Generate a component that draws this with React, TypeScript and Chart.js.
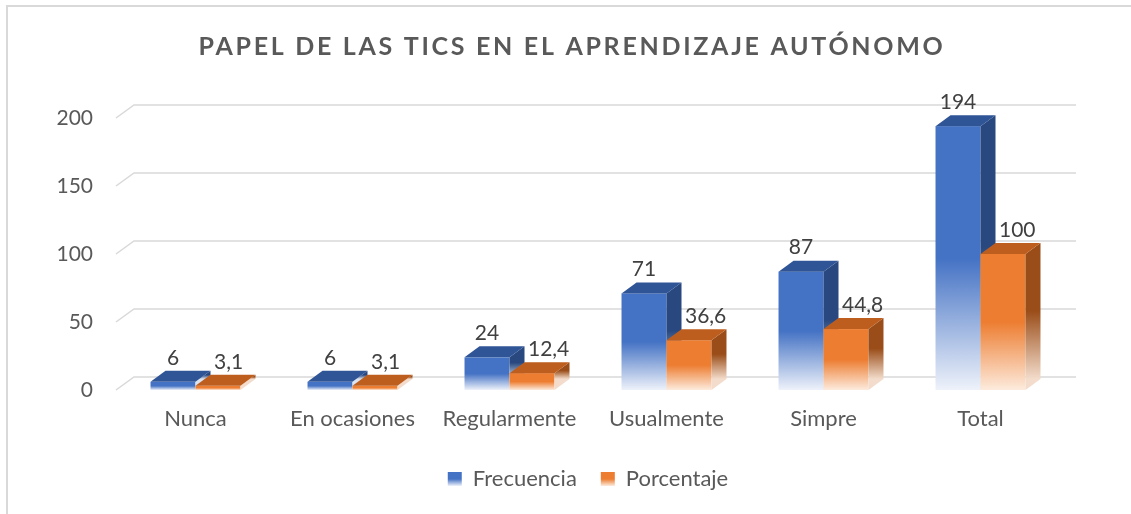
import React, { useEffect, useRef } from 'react';
import { Chart, registerables } from 'chart.js';

Chart.register(...registerables);

// ---------- data ----------
const categories = ['Nunca', 'En ocasiones', 'Regularmente', 'Usualmente', 'Simpre', 'Total'];
const seriesNames = ['Frecuencia', 'Porcentaje'];
const frecuencia = [6, 6, 24, 71, 87, 194];
const porcentaje = [3.1, 3.1, 12.4, 36.6, 44.8, 100];
const yTicks = [0, 50, 100, 150, 200];
const chartTitle = 'PAPEL DE LAS TICS EN EL APRENDIZAJE AUTÓNOMO';

// ---------- styles ----------
const FONT = 'Lato';
const TEXT = '#595959';
const LABEL = '#404040';
const GRID = '#D9D9D9';
const DX = 15; // bar depth
const DY = -11;
const WX = 17; // back wall offset
const WY = -13;
const LEGEND_BOX = 14;
const LEGEND_FONT = 22;

const palette = [
  { front: '#4472C4', top: '#2F5597', side: '#28487F', pale: '#EEF2FA', sidePale: '#DCE3F0' },
  { front: '#ED7D31', top: '#BE5E1E', side: '#9A4D19', pale: '#FDEBDD', sidePale: '#F3DCCB' },
];

const fmt = (v: number) => String(v).replace('.', ',');

function fade(ctx: CanvasRenderingContext2D, y0: number, y1: number, solid: string, pale: string) {
  const g = ctx.createLinearGradient(0, y0, 0, y1);
  g.addColorStop(0, solid);
  g.addColorStop(0.5, solid);
  g.addColorStop(1, pale);
  return g;
}

function drawBox(ctx: CanvasRenderingContext2D, l: number, r: number, top: number, bottom: number, c: any) {
  // front face
  ctx.fillStyle = fade(ctx, top, bottom, c.front, c.pale);
  ctx.fillRect(l, top, r - l, bottom - top);
  // side face
  ctx.fillStyle = fade(ctx, top + DY, bottom + DY, c.side, c.sidePale);
  ctx.beginPath();
  ctx.moveTo(r, top);
  ctx.lineTo(r + DX, top + DY);
  ctx.lineTo(r + DX, bottom + DY);
  ctx.lineTo(r, bottom);
  ctx.closePath();
  ctx.fill();
  // top face
  ctx.fillStyle = c.top;
  ctx.beginPath();
  ctx.moveTo(l, top);
  ctx.lineTo(l + DX, top + DY);
  ctx.lineTo(r + DX, top + DY);
  ctx.lineTo(r, top);
  ctx.closePath();
  ctx.fill();
}

const threeD = {
  id: 'threeD',
  beforeDraw(chart: any) {
    const ctx = chart.ctx as CanvasRenderingContext2D;
    ctx.save();
    ctx.fillStyle = '#ffffff';
    ctx.fillRect(0, 0, chart.width, chart.height);
    ctx.strokeStyle = GRID;
    ctx.lineWidth = 2;
    ctx.strokeRect(7, 6, chart.width, chart.height);
    ctx.font = `bold 25px ${FONT}`;
    ctx.fillStyle = TEXT;
    ctx.textAlign = 'center';
    ctx.textBaseline = 'middle';
    (ctx as any).letterSpacing = '2.7px';
    ctx.fillText(chartTitle, 572, 47);
    (ctx as any).letterSpacing = '0px';
    ctx.restore();
    // gradient legend markers
    const lg = chart.legend;
    if (lg && lg.legendHitBoxes && lg.legendItems) {
      lg.legendHitBoxes.forEach((hb: any, i: number) => {
        const item = lg.legendItems[i];
        const c = palette[item.datasetIndex ?? i];
        if (!c) return;
        const top = hb.top + Math.max((LEGEND_FONT - LEGEND_BOX) / 2, 0);
        item.fillStyle = fade(ctx, top, top + LEGEND_BOX, c.front, c.pale);
      });
    }
  },
  beforeDatasetsDraw(chart: any) {
    const { ctx, chartArea, scales } = chart;
    const y = scales.y;
    ctx.save();
    ctx.strokeStyle = GRID;
    ctx.lineWidth = 1.5;
    y.ticks.forEach((t: any) => {
      const py = y.getPixelForValue(t.value);
      ctx.beginPath();
      ctx.moveTo(chartArea.left - 1, py);
      ctx.lineTo(chartArea.left + WX, py + WY);
      ctx.lineTo(chartArea.right + WX, py + WY);
      ctx.stroke();
    });
    ctx.restore();
  },
  beforeDatasetDraw() {
    return false;
  },
  afterDatasetsDraw(chart: any) {
    const ctx = chart.ctx as CanvasRenderingContext2D;
    ctx.save();
    const n = chart.data.labels.length;
    for (let i = 0; i < n; i++) {
      chart.data.datasets.forEach((ds: any, d: number) => {
        const bar = chart.getDatasetMeta(d).data[i];
        const l = bar.x - bar.width / 2;
        const r = bar.x + bar.width / 2;
        drawBox(ctx, l, r, bar.y, bar.base, palette[d]);
      });
    }
    ctx.font = `21px ${FONT}`;
    ctx.fillStyle = LABEL;
    ctx.textBaseline = 'middle';
    for (let i = 0; i < n; i++) {
      chart.data.datasets.forEach((ds: any, d: number) => {
        const bar = chart.getDatasetMeta(d).data[i];
        ctx.textAlign = d === 0 ? 'center' : 'left';
        const x = d === 0 ? bar.x : bar.x - 4;
        ctx.fillText(fmt(ds.data[i]), x, bar.y - 24);
      });
    }
    ctx.restore();
  },
};

export default function App() {
  const ref = useRef<HTMLCanvasElement>(null);
  useEffect(() => {
    if (!ref.current) return;
    const chart = new Chart(ref.current, {
      type: 'bar',
      data: {
        labels: categories,
        datasets: [
          { label: seriesNames[0], data: frecuencia, backgroundColor: palette[0].front },
          { label: seriesNames[1], data: porcentaje, backgroundColor: palette[1].front },
        ],
      },
      options: {
        responsive: false,
        animation: false,
        layout: { padding: { top: 118, left: 0, right: 72, bottom: 14 } },
        datasets: { bar: { categoryPercentage: 0.573, barPercentage: 1 } } as any,
        plugins: {
          title: { display: false },
          tooltip: { enabled: false },
          legend: {
            position: 'bottom',
            fullSize: false,
            labels: {
              boxWidth: LEGEND_BOX,
              boxHeight: LEGEND_BOX,
              padding: 24,
              color: TEXT,
              font: { family: FONT, size: LEGEND_FONT },
            },
          },
        },
        scales: {
          x: {
            grid: { display: false },
            border: { display: false },
            ticks: { color: TEXT, font: { family: FONT, size: 22 }, padding: 8 },
            afterFit: (s: any) => {
              s.height = 54;
            },
          },
          y: {
            min: 0,
            max: 200,
            grid: { display: false },
            border: { display: false },
            ticks: { color: TEXT, font: { family: FONT, size: 21 }, padding: 16 },
            afterBuildTicks: (s: any) => {
              s.ticks = yTicks.map((v) => ({ value: v }));
            },
            afterFit: (s: any) => {
              s.width = 117;
            },
          },
        },
      },
      plugins: [threeD],
    });
    return () => chart.destroy();
  }, []);
  return (
    <div style={{ position: 'fixed', left: 0, top: 0, width: 1131, height: 514, background: '#fff' }}>
      <canvas ref={ref} width={1131} height={514} style={{ display: 'block' }} />
    </div>
  );
}
